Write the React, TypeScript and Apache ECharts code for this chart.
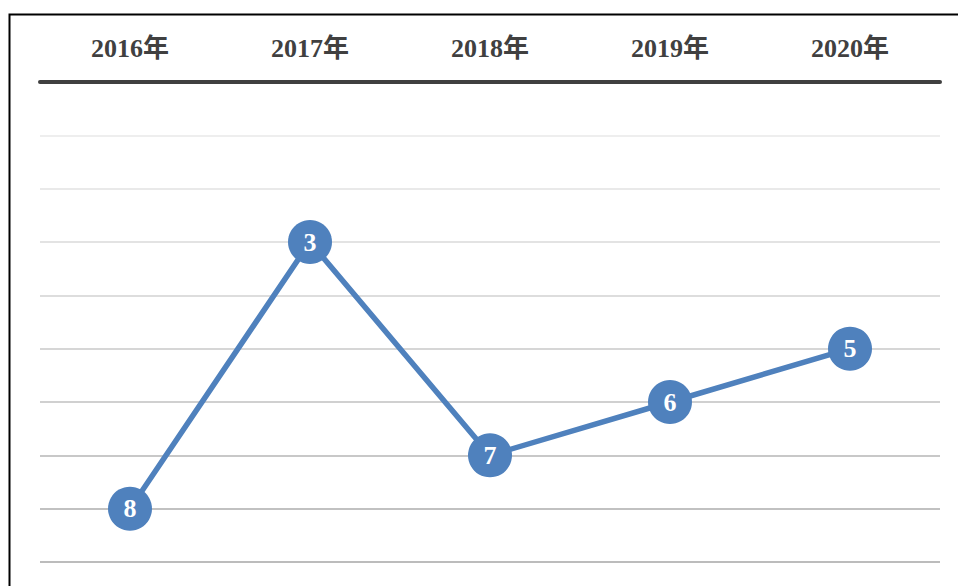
import React, { useEffect, useRef } from "react";
import * as echarts from "echarts";

const categories = ["2016年", "2017年", "2018年", "2019年", "2020年"];
const ranks = [8, 3, 7, 6, 5];
const yMin = 0;
const yMax = 9;
const gridColors = [
  "#ffffff",
  "#e8e8e8",
  "#e2e2e2",
  "#dadada",
  "#d2d2d2",
  "#c9c9c9",
  "#c0c0c0",
  "#b6b6b6",
  "#adadad",
  "#a6a6a6",
];

export default function App() {
  const ref = useRef<HTMLDivElement>(null);
  useEffect(() => {
    if (!ref.current) return;
    const chart = echarts.init(ref.current, null, { renderer: "svg" });
    const serif = "'Times New Roman', 'Liberation Serif', 'Noto Sans CJK SC', serif";
    chart.setOption({
      animation: false,
      backgroundColor: "#ffffff",
      grid: { left: 40, right: 18, top: 82, bottom: 24, containLabel: false },
      graphic: [
        {
          type: "rect",
          shape: { x: 9.5, y: 14.5, width: 1000, height: 700 },
          style: { fill: "none", stroke: "#000000", lineWidth: 2 },
          z: 100,
        },
      ],
      xAxis: {
        type: "category",
        data: categories,
        position: "top",
        boundaryGap: true,
        axisLine: { show: true, onZero: false, lineStyle: { color: "#404040", width: 4 } },
        axisTick: { show: false },
        axisLabel: {
          color: "#404040",
          fontFamily: serif,
          fontWeight: "bold",
          fontSize: 26,
          margin: 21,
        },
        splitLine: { show: false },
        z: 10,
      },
      yAxis: {
        type: "value",
        inverse: true,
        min: yMin,
        max: yMax,
        interval: 1,
        axisLine: { show: false },
        axisTick: { show: false },
        axisLabel: { show: false },
        splitLine: { show: true, lineStyle: { color: gridColors, width: 1.5 } },
      },
      series: [
        {
          type: "line",
          data: ranks,
          symbol: "circle",
          symbolSize: 44,
          lineStyle: { color: "#4f81bd", width: 5.5 },
          itemStyle: { color: "#4f81bd" },
          label: {
            show: true,
            position: "inside",
            color: "#ffffff",
            fontFamily: serif,
            fontWeight: "bold",
            fontSize: 26,
          },
          z: 5,
        },
      ],
    });
    return () => chart.dispose();
  }, []);
  return (
    <div
      ref={ref}
      style={{ position: "fixed", left: 0, top: 0, width: 958, height: 586 }}
    />
  );
}
